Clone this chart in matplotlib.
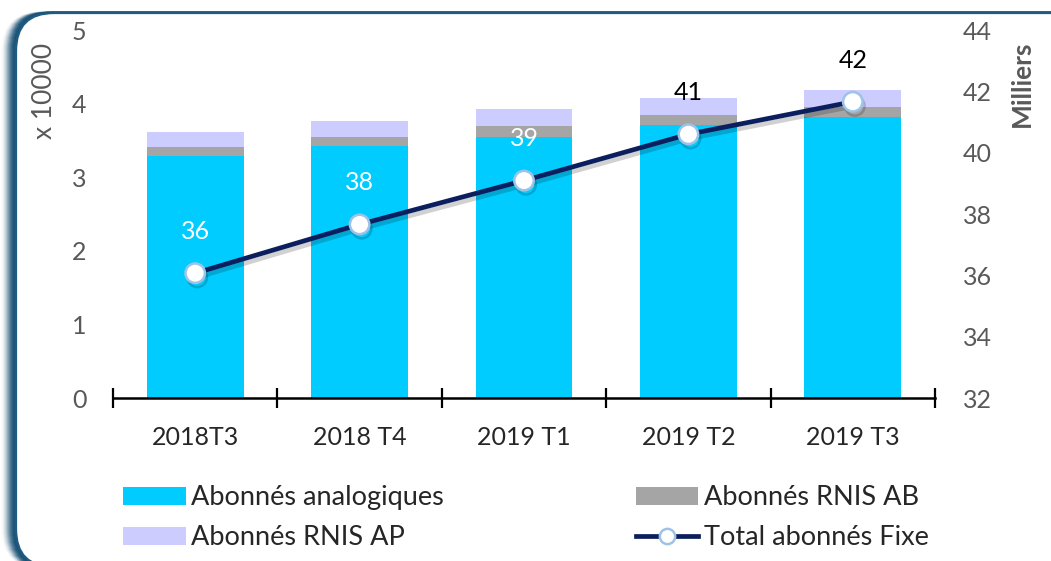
import matplotlib.pyplot as plt
import matplotlib.patheffects as pe
from matplotlib.patches import FancyBboxPatch
from matplotlib.transforms import IdentityTransform
from matplotlib.lines import Line2D
import numpy as np

plt.rcParams['font.family'] = ['Lato', 'DejaVu Sans']

# donnees (axe gauche en x 10000, axe droit en milliers)
trimestres = ["2018T3", "2018 T4", "2019 T1", "2019 T2", "2019 T3"]
analogiques = [3.29, 3.42, 3.55, 3.71, 3.82]
rnis_ab = [0.12, 0.13, 0.14, 0.13, 0.13]
rnis_ap = [0.21, 0.22, 0.23, 0.24, 0.24]
total_fixe = [36.07, 37.66, 39.09, 40.60, 41.66]
etiquettes = ["36", "38", "39", "41", "42"]
couleur_etiq = ["white", "white", "white", "black", "black"]

c_ana = '#00ccff'
c_ab = '#a5a5a5'
c_ap = '#ccccff'
c_tot = '#0b1f5e'
gris = '#595959'

W, H = 1051, 561
fig = plt.figure(figsize=(W / 100, H / 100), dpi=100)

# cadre arrondi avec ombre a gauche
tr = IdentityTransform()
for k in range(14, 0, -1):
    sh = FancyBboxPatch((16 - k, -6), 1100, H - 13 + 6, boxstyle="round,pad=0,rounding_size=38",
                        transform=tr, facecolor='none', edgecolor='#1a5276', lw=2,
                        alpha=0.9 * ((15 - k) / 14) ** 2, zorder=-3)
    fig.patches.append(sh)
cadre = FancyBboxPatch((16, -6), 1100, H - 13 + 6, boxstyle="round,pad=0,rounding_size=38",
                       transform=tr, facecolor='white', edgecolor='#1f5a80', lw=1.6, zorder=-2)
fig.patches.append(cadre)

ax = fig.add_axes([113 / W, 1 - 398 / H, (935 - 113) / W, (398 - 30) / H])
ax.set_facecolor('none')
x = np.arange(len(trimestres))
larg = 0.59
b1 = ax.bar(x, analogiques, larg, color=c_ana, zorder=2)
b2 = ax.bar(x, rnis_ab, larg, bottom=analogiques, color=c_ab, zorder=2)
bas_ap = np.array(analogiques) + np.array(rnis_ab)
b3 = ax.bar(x, rnis_ap, larg, bottom=bas_ap, color=c_ap, zorder=2)

ax.set_xlim(-0.5, len(trimestres) - 0.5)
ax.set_ylim(0, 5)
ax.set_yticks(range(0, 6))
ax.set_xticks(np.arange(-0.5, len(trimestres), 1.0))
ax.set_xticklabels([])
ax.set_xticks(x, minor=True)
ax.set_xticklabels(trimestres, minor=True, fontsize=18, color='#262626')
ax.tick_params(axis='x', which='major', direction='inout', length=14, width=1.6, color='black')
ax.tick_params(axis='x', which='minor', length=0, pad=20)
ax.tick_params(axis='y', length=0, pad=19, labelsize=18, labelcolor=gris)
for s in ['top', 'left', 'right']:
    ax.spines[s].set_visible(False)
ax.spines['bottom'].set_linewidth(1.8)

ax2 = ax.twinx()
ax2.set_ylim(32, 44)
ax2.set_yticks(range(32, 45, 2))
ax2.tick_params(axis='y', length=0, pad=20, labelsize=18, labelcolor=gris)
for s in ax2.spines.values():
    s.set_visible(False)
ligne, = ax2.plot(x, total_fixe, color=c_tot, lw=3.4, marker='o', markersize=14,
                  markerfacecolor='white', markeredgecolor='#9dc3e6', markeredgewidth=1.8, zorder=3,
                  path_effects=[pe.SimpleLineShadow(offset=(1.5, -3), alpha=0.18), pe.Normal()])
for i in range(len(x)):
    ax2.annotate(etiquettes[i], (x[i], total_fixe[i]), xytext=(0, 30), textcoords='offset points',
                 ha='center', va='center', fontsize=18, color=couleur_etiq[i])

fig.text(45 / W, 1 - 91 / H, "x 10000", rotation=90, ha='center', va='center', fontsize=19, color=gris)
fig.text(1022 / W, 1 - 84 / H, "Milliers", rotation=90, ha='center', va='center', fontsize=19,
         color=gris, fontweight='bold')

poignee_tot = Line2D([], [], color=c_tot, lw=3.4, marker='o', markersize=11,
                     markerfacecolor='white', markeredgecolor='#9dc3e6', markeredgewidth=1.8)
leg = fig.legend([b1, b3, b2, poignee_tot],
                 ["Abonnés analogiques", "Abonnés RNIS AP", "Abonnés RNIS AB", "Total abonnés Fixe"],
                 ncol=2, loc='upper left', bbox_to_anchor=(99 / W, 1 - 461 / H), frameon=False,
                 fontsize=19.5, handlelength=2.3, handleheight=0.65, handletextpad=0.2,
                 columnspacing=7.1, labelspacing=0.55, labelcolor='#262626')

fig.savefig("out.png", dpi=100)
